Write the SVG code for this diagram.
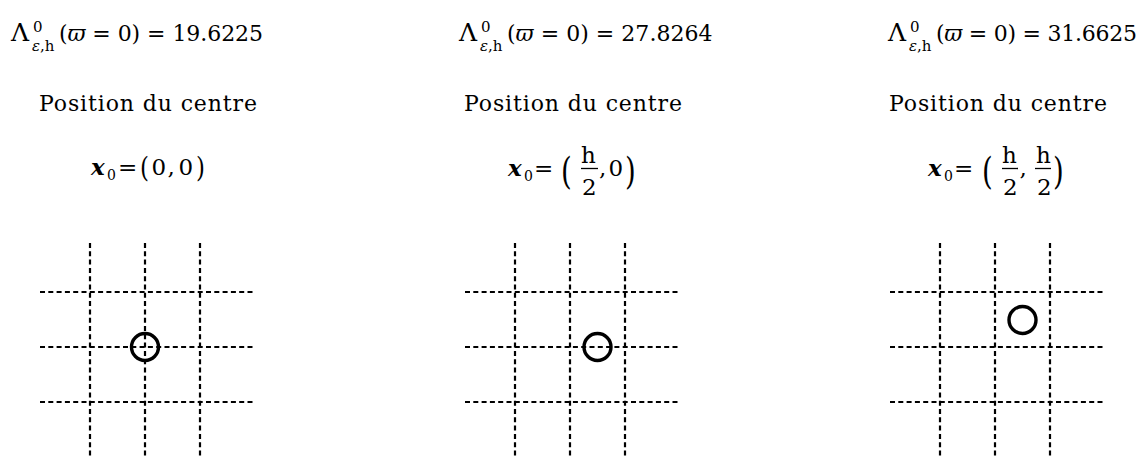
<svg xmlns="http://www.w3.org/2000/svg" width="1142" height="456" viewBox="0 0 1142 456">
<style>
text{font-family:"DejaVu Serif","Liberation Serif",serif;font-size:22px;fill:#000}
.m{font-size:23px}
.L{font-size:25px}
.s{font-size:15px}
.s0{font-size:14px}
.it{font-style:italic}
.bi{font-style:italic;font-weight:bold;font-size:23px}
.g line{stroke:#000;stroke-width:2.2;stroke-dasharray:5 3.3}
.bar{stroke:#000;stroke-width:1.3}
.c{fill:none;stroke:#000;stroke-width:3.4}
</style>
<rect width="1142" height="456" fill="#fff"/>

<g id="panel1">
  <g id="title1">
    <text class="L" x="11" y="41">Λ</text>
    <text class="s" x="33" y="32">0</text>
    <text class="s" x="32" y="51"><tspan class="it">ε</tspan>,h</text>
    <text x="59" y="41" textLength="204" lengthAdjust="spacing">(<tspan class="it">ϖ</tspan> = 0) = 19.6225</text>
  </g>
  <text x="39" y="111" textLength="218" lengthAdjust="spacing">Position du centre</text>
  <g id="formula1">
    <text class="bi" x="91" y="175">x</text>
    <text class="s0" x="107" y="180">0</text>
    <text class="m" x="118" y="175">=</text>
    <text class="m" transform="translate(140,177) scale(1,1.2)">(</text>
    <text class="m" x="151.5" y="175">0</text>
    <text class="m" x="167.5" y="175">,</text>
    <text class="m" x="178.5" y="175">0</text>
    <text class="m" transform="translate(196,177) scale(1,1.2)">)</text>
  </g>
  <g id="grid1" class="g">
    <line x1="90" y1="243" x2="90" y2="456"/>
    <line x1="145" y1="243" x2="145" y2="456"/>
    <line x1="200" y1="243" x2="200" y2="456"/>
    <line x1="40" y1="292" x2="255" y2="292"/>
    <line x1="40" y1="347" x2="255" y2="347"/>
    <line x1="40" y1="402" x2="255" y2="402"/>
  </g>
  <circle id="centre1" class="c" cx="145" cy="347" r="13.5"/>
</g>

<g id="panel2">
  <g id="title2" transform="translate(448,0)">
    <text class="L" x="11" y="41">Λ</text>
    <text class="s" x="33" y="32">0</text>
    <text class="s" x="32" y="51"><tspan class="it">ε</tspan>,h</text>
    <text x="59" y="41" textLength="205.5" lengthAdjust="spacing">(<tspan class="it">ϖ</tspan> = 0) = 27.8264</text>
  </g>
  <text x="464" y="111" textLength="218" lengthAdjust="spacing">Position du centre</text>
  <g id="formula2">
    <text class="bi" x="508" y="176">x</text>
    <text class="s0" x="524" y="181">0</text>
    <text class="m" x="534" y="176">=</text>
    <text class="m" transform="translate(561,184) scale(1.2,1.6)">(</text>
    <text class="m" x="581" y="163">h</text>
    <line class="bar" x1="581" y1="168.5" x2="598" y2="168.5"/>
    <text class="m" x="582" y="195">2</text>
    <text class="m" x="599" y="176">,</text>
    <text class="m" x="608.5" y="176">0</text>
    <text class="m" transform="translate(625,184) scale(1.2,1.6)">)</text>
  </g>
  <g id="grid2" class="g">
    <line x1="515" y1="243" x2="515" y2="456"/>
    <line x1="570" y1="243" x2="570" y2="456"/>
    <line x1="625" y1="243" x2="625" y2="456"/>
    <line x1="465" y1="292" x2="680" y2="292"/>
    <line x1="465" y1="347" x2="680" y2="347"/>
    <line x1="465" y1="402" x2="680" y2="402"/>
  </g>
  <circle id="centre2" class="c" cx="597.5" cy="347" r="13.5"/>
</g>

<g id="panel3">
  <g id="title3" transform="translate(877,0)">
    <text class="L" x="11" y="41">Λ</text>
    <text class="s" x="33" y="32">0</text>
    <text class="s" x="32" y="51"><tspan class="it">ε</tspan>,h</text>
    <text x="59" y="41" textLength="201" lengthAdjust="spacing">(<tspan class="it">ϖ</tspan> = 0) = 31.6625</text>
  </g>
  <text x="889" y="111" textLength="218" lengthAdjust="spacing">Position du centre</text>
  <g id="formula3">
    <text class="bi" x="928" y="176">x</text>
    <text class="s0" x="944" y="181">0</text>
    <text class="m" x="954" y="176">=</text>
    <text class="m" transform="translate(982,184) scale(1.2,1.6)">(</text>
    <text class="m" x="1002" y="163">h</text>
    <line class="bar" x1="1002" y1="168.5" x2="1018" y2="168.5"/>
    <text class="m" x="1003" y="195">2</text>
    <text class="m" x="1019.5" y="176">,</text>
    <text class="m" x="1036" y="163">h</text>
    <line class="bar" x1="1035" y1="168.5" x2="1051" y2="168.5"/>
    <text class="m" x="1037" y="195">2</text>
    <text class="m" transform="translate(1053,184) scale(1.2,1.6)">)</text>
  </g>
  <g id="grid3" class="g">
    <line x1="940" y1="243" x2="940" y2="456"/>
    <line x1="995" y1="243" x2="995" y2="456"/>
    <line x1="1050" y1="243" x2="1050" y2="456"/>
    <line x1="890" y1="292" x2="1105" y2="292"/>
    <line x1="890" y1="347" x2="1105" y2="347"/>
    <line x1="890" y1="402" x2="1105" y2="402"/>
  </g>
  <circle id="centre3" class="c" cx="1022.5" cy="320" r="13.5"/>
</g>
</svg>
